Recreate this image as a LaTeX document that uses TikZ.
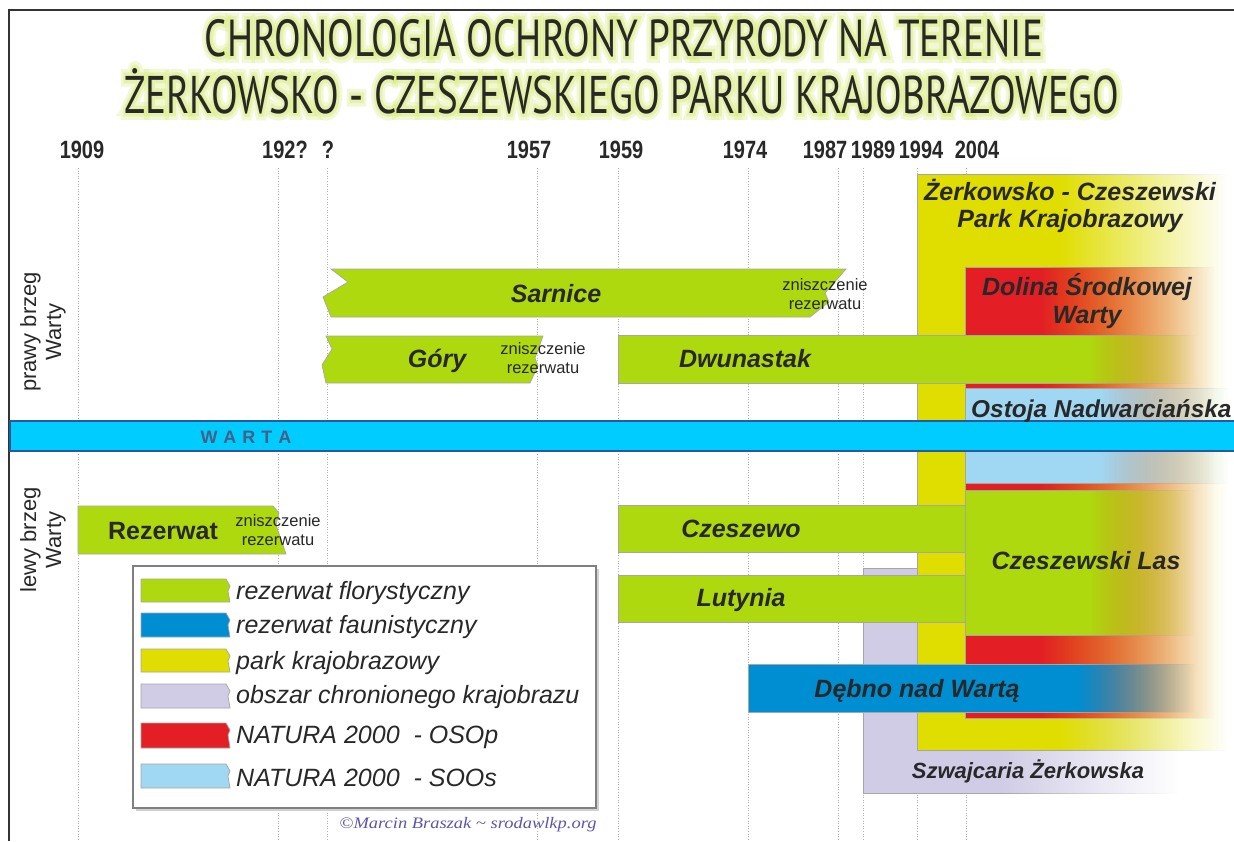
\documentclass[tikz,border=0pt]{standalone}
\usepackage{fontspec}
\usepackage{graphicx}
\setmainfont{Liberation Sans}
\newfontfamily\yearfont[FakeStretch=0.8]{Liberation Sans}
\newfontfamily\titlefont{PT Sans}
% stroked copies of the title face, used for the glow behind the title
\newfontfamily\glowwide[FakeBold=26]{PT Sans}
\newfontfamily\glownarrow[FakeBold=13]{PT Sans}
\newfontfamily\creditfont{Liberation Serif}
\usetikzlibrary{fadings}
\tikzfading[name=fadeout, left color=transparent!0, right color=transparent!100]

\definecolor{leafgreen}{RGB}{174,217,14}
\definecolor{parkyellow}{RGB}{224,222,0}
\definecolor{oso}{RGB}{227,30,36}
\definecolor{soo}{RGB}{160,216,244}
\definecolor{ocklav}{RGB}{208,204,230}
\definecolor{faunablue}{RGB}{0,142,210}
\definecolor{river}{RGB}{0,204,255}
\definecolor{riveredge}{RGB}{40,90,160}
\definecolor{ink}{RGB}{40,40,40}
\definecolor{wartaink}{RGB}{70,95,135}
\definecolor{glow}{RGB}{215,235,120}
\definecolor{credit}{RGB}{95,85,170}

% title lines, set in the face given as #1
\newcommand\titleA[1]{\resizebox{838pt}{\height}{#1\fontsize{52}{52}\selectfont CHRONOLOGIA OCHRONY PRZYRODY NA TERENIE}}
\newcommand\titleB[1]{\resizebox{995pt}{\height}{#1\fontsize{53}{53}\selectfont ŻERKOWSKO - CZESZEWSKIEGO PARKU KRAJOBRAZOWEGO}}

% bar with a solid part and a part fading out to the right
% #1 colour, #2 left, #3 top, #4 end of solid part, #5 end of fade, #6 bottom
\newcommand\fadebar[6]{%
  \fill[#1] (#2,#3) rectangle (#4+1,#6);
  \fill[#1,path fading=fadeout] (#4,#3) rectangle (#5,#6);
  \draw[edge] (#4,#3) -- (#2,#3) -- (#2,#6) -- (#4,#6);
  \draw[edge,path fading=fadeout] (#4,#3) -- (#5,#3) (#4,#6) -- (#5,#6);}

% legend swatch: #1 colour, #2 top, #3 bottom
\newcommand\swatch[3]{%
  \path[fill=#1,edge] (141,#2) -- (226,#2) -- (230,#2+7) -- (228,#2+12) -- (230,#3) -- (141,#3) -- cycle;}

\begin{document}
\begin{tikzpicture}[x=1pt,y=-1pt,
  guide/.style={draw=black!30, line width=0.6, dotted},
  frame/.style={draw=black!80, line width=1.6},
  edge/.style={draw=black!35, line width=0.7},
  titlest/.style={anchor=base, inner sep=0},
  yearst/.style={anchor=base, inner sep=0, text=ink, font=\yearfont\bfseries\fontsize{25}{25}\selectfont},
  sidest/.style={rotate=90, align=center, inner sep=0, text=ink, font=\fontsize{22}{25}\selectfont},
  barlbl/.style={anchor=base, inner sep=0, text=ink, font=\fontsize{25}{30}\selectfont\bfseries\itshape},
  notest/.style={align=center, inner sep=0, text=ink, font=\fontsize{16.5}{18.5}\selectfont},
  legtext/.style={anchor=base west, inner sep=0, text=ink, font=\fontsize{25}{28}\selectfont\itshape}]

\useasboundingbox (0,0) rectangle (1234,841);
\fill[white] (0,0) rectangle (1234,841);

% year guide lines
\foreach \gx in {78,278,327,537,618,748,838,863,917,966}
  \draw[guide] (\gx,168) -- (\gx,841);

% frame
\draw[frame] (9,841) -- (9,10) -- (1240,10);

% title with glow
\node[titlest,opacity=0.3] (glow1a) at (624,56) {\color{glow}\titleA{\glowwide}};
\node[titlest,opacity=0.45] (glow1b) at (624,56) {\color{glow}\titleA{\glownarrow}};
\node[titlest,text=ink] (title1) at (624,56) {\titleA{\titlefont}};
\node[titlest,opacity=0.3] (glow2a) at (622,113) {\color{glow}\titleB{\glowwide}};
\node[titlest,opacity=0.45] (glow2b) at (622,113) {\color{glow}\titleB{\glownarrow}};
\node[titlest,text=ink] (title2) at (622,113) {\titleB{\titlefont}};

% years
\foreach \yx/\yt/\yn in {82/1909/a, 285/192?/b, 328/?/c, 529/1957/d, 621/1959/e,
                         745/1974/f, 825/1987/g, 873/1989/h, 921/1994/i, 977/2004/j}
  \node[yearst] (year\yn) at (\yx,158) {\yt};

% river banks
\node[sidest] (rightbank) at (43,332) {prawy brzeg\\Warty};
\node[sidest] (leftbank) at (43,540) {lewy brzeg\\Warty};

% areas and reserves, back to front
\fadebar{ocklav}{863}{568}{1000}{1178}{793}
\fadebar{parkyellow}{917}{174}{1060}{1228}{750}
\fadebar{oso}{965}{267}{1040}{1215}{718}
\fadebar{soo}{965}{388}{1100}{1228}{483}
\fadebar{leafgreen}{618}{335}{1090}{1195}{383}

\path[fill=leafgreen,edge] (331,269) -- (846,269) -- (825,293) -- (829,302) -- (810,317)
  -- (331,317) -- (323,297) -- (348,282) -- cycle;
\path[fill=leafgreen,edge] (326,336) -- (543,336) -- (535,358) -- (538,366) -- (530,383)
  -- (326,383) -- (322,365) -- (332,349) -- cycle;
\path[fill=leafgreen,edge] (78,506) -- (273,506) -- (279,513) -- (276,525) -- (286,554)
  -- (78,554) -- cycle;
\path[fill=leafgreen,edge] (618,505) rectangle (965,552);
\path[fill=leafgreen,edge] (618,575) rectangle (965,622);

\fadebar{leafgreen}{965}{490}{1090}{1195}{635}
\fadebar{faunablue}{748}{664}{1078}{1195}{712}

% the river
\path[fill=river,draw=riveredge,line width=1.8] (10,421) rectangle (1240,451);
\node[inner sep=0,text=wartaink,font=\fontsize{18}{18}\selectfont\bfseries] (warta) at (246,437)
  {W\hspace{6pt}A\hspace{6pt}R\hspace{6pt}T\hspace{6pt}A};

% labels
\node[barlbl] (zcpk1) at (1070,200) {Żerkowsko - Czeszewski};
\node[barlbl] (zcpk2) at (1070,227) {Park Krajobrazowy};
\node[barlbl] (dsw1) at (1087,295) {Dolina Środkowej};
\node[barlbl] (dsw2) at (1087,323) {Warty};
\node[barlbl] (sarnice) at (556,302) {Sarnice};
\node[notest] (sarniceend) at (825,294) {zniszczenie\\rezerwatu};
\node[barlbl] (gory) at (437,367) {Góry};
\node[notest] (goryend) at (543,358) {zniszczenie\\rezerwatu};
\node[barlbl] (dwunastak) at (745,367) {Dwunastak};
\node[barlbl,anchor=base west,font=\fontsize{24.4}{30}\selectfont\bfseries\itshape] (ostoja) at (971,417) {Ostoja Nadwarciańska};
\node[barlbl,font=\fontsize{25}{30}\selectfont\bfseries] (rezerwat) at (163,539) {Rezerwat};
\node[notest] (rezerwatend) at (278,530) {zniszczenie\\rezerwatu};
\node[barlbl] (czeszewo) at (741,537) {Czeszewo};
\node[barlbl] (lutynia) at (741,606) {Lutynia};
\node[barlbl] (czlas) at (1086,569) {Czeszewski Las};
\node[barlbl] (debno) at (917,697) {Dębno nad Wartą};
\node[barlbl,font=\fontsize{22}{26}\selectfont\bfseries\itshape] (szwajcaria) at (1028,778) {Szwajcaria Żerkowska};

% legend
\fill[black!18] (136,569) rectangle (599,811);
\path[fill=white,draw=black!50,line width=1.2] (133,566) rectangle (596,808);
\swatch{leafgreen}{579}{602}
\swatch{faunablue}{613}{637}
\swatch{parkyellow}{649}{672}
\swatch{ocklav}{684}{708}
\swatch{oso}{723}{748}
\swatch{soo}{764}{788}
\node[legtext] (leg1) at (236,599) {rezerwat florystyczny};
\node[legtext] (leg2) at (236,633) {rezerwat faunistyczny};
\node[legtext] (leg3) at (236,669) {park krajobrazowy};
\node[legtext] (leg4) at (236,703) {obszar chronionego krajobrazu};
\node[legtext] (leg5) at (236,743) {NATURA 2000\ \ - OSOp};
\node[legtext] (leg6) at (236,786) {NATURA 2000\ \ - SOOs};

% credit
\node[anchor=base,inner sep=0,text=credit] (credit) at (468,828)
  {\resizebox{257pt}{\height}{\creditfont\itshape\fontsize{16}{16}\selectfont ©Marcin Braszak \textasciitilde{} srodawlkp.org}};
\end{tikzpicture}
\end{document}
